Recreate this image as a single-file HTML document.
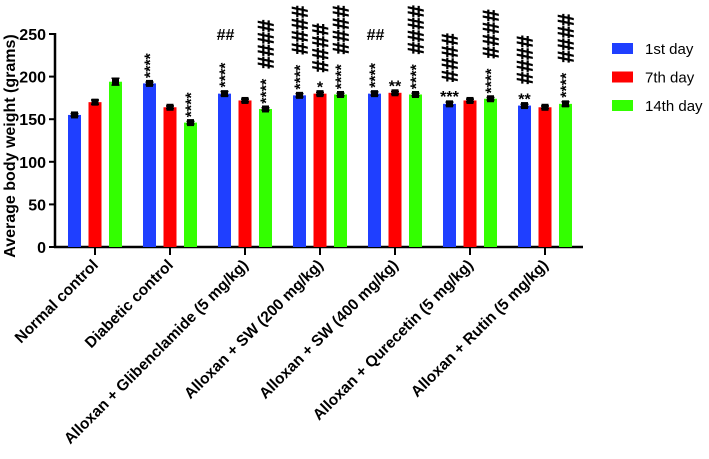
<!DOCTYPE html>
<html><head><meta charset="utf-8"><style>
html,body{margin:0;padding:0;background:#fff}
svg{display:block;font-family:"Liberation Sans",Arial,sans-serif}
</style></head><body>
<svg id="chart" width="709" height="459" viewBox="0 0 709 459" xmlns="http://www.w3.org/2000/svg"></svg>
<script>
const categories=["Normal control","Diabetic control","Alloxan + Glibenclamide (5 mg/kg)","Alloxan + SW (200 mg/kg)","Alloxan + SW (400 mg/kg)","Alloxan + Qurecetin (5 mg/kg)","Alloxan + Rutin (5 mg/kg)"];
const seriesNames=["1st day","7th day","14th day"];
const day1=[155,192,180,178,180,168,166];
const day7=[170,164,172,180,181,172,164];
const day14=[194,146,162,179,179,174,168];
const err1=[1.5,1.5,2.5,2,2,2,1.5];
const err7=[2.5,1.5,1.5,1.5,1.5,1.5,1.5];
const err14=[4,1.5,1.5,1.5,1.5,1.5,2.5];
const stars1=["","****","****","****","****","***","**"];
const stars7=["","","","*","**","",""];
const stars14=["","****","****","****","****","****","****"];
const hash1=["","","##","####","##","####","####"];
const hash7=["","","","####","","",""];
const hash14=["","","####","####","####","####","####"];
const yTicks=[0,50,100,150,200,250];
const colors=["#1f3fff","#ff0000","#33ff00"];

const svg=document.getElementById('chart');
const NS="http://www.w3.org/2000/svg";
const x0=55,yBase=247,yTop=34,yMax=250,gStart=95,gStep=75,bw=13,off=20.5;
const y=v=>yBase-(v/yMax)*(yBase-yTop);
const gx=i=>gStart+i*gStep;
function mk(tag,attrs,parent){const e=document.createElementNS(NS,tag);for(const k in attrs)e.setAttribute(k,attrs[k]);(parent||svg).appendChild(e);return e;}

const ya=mk('line',{x1:x0,y1:yTop-1,x2:x0,y2:yBase+1,stroke:'#000','stroke-width':2.5});


const xa=mk('line',{x1:x0-1,y1:yBase,x2:583,y2:yBase,stroke:'#000','stroke-width':2.5});


yTicks.forEach(t=>{
  const l=mk('line',{x1:x0-6,y1:y(t),x2:x0,y2:y(t),stroke:'#000','stroke-width':2});
  
  
  const tx=mk('text',{x:x0-9,y:y(t)+6,'text-anchor':'end','font-size':16,'font-weight':'bold'});
  tx.textContent=t;
  
  
});
const yt=mk('text',{x:0,y:0,transform:'translate(15,146) rotate(-90)','text-anchor':'middle','font-size':16,'font-weight':'bold'});
yt.textContent='Average body weight (grams)';



const vals=[day1,day7,day14],errs=[err1,err7,err14],stars=[stars1,stars7,stars14],hashes=[hash1,hash7,hash14];
categories.forEach((c,i)=>{
  const tk=mk('line',{x1:gx(i),y1:yBase,x2:gx(i),y2:yBase+8,stroke:'#000','stroke-width':2});
  
  
  const lb=mk('text',{x:0,y:0,transform:`translate(${gx(i)+4},${yBase+19}) rotate(-45)`,'text-anchor':'end','font-size':15.5,'font-weight':'bold'});
  lb.textContent=c;
  
  
  for(let s=0;s<3;s++){
    const cx=gx(i)+(s-1)*off, v=vals[s][i], top=y(v);
    const r=mk('rect',{x:cx-bw/2,y:top,width:bw,height:yBase-top,fill:colors[s]});
    
    
    const e=errs[s][i];
    const eb=mk('path',{d:`M${cx-4} ${y(v+e)}H${cx+4}M${cx} ${y(v+e)}V${y(v-e)}M${cx-4} ${y(v-e)}H${cx+4}`,stroke:'#000','stroke-width':1.5,fill:'none'});
    
    
    const sq=mk('rect',{x:cx-3.5,y:top-3.5,width:7,height:7,fill:'#000'});
    
    
    let cur=y(v+e)-4;
    const st=stars[s][i];
    if(st){
      let t;
      if(st.length>=4){
        t=mk('text',{x:0,y:0,transform:`translate(${cx+6},${cur}) rotate(-90)`,'font-size':16,'font-weight':'bold'});
        cur-=33;
      } else {
        t=mk('text',{x:cx,y:cur+4,'text-anchor':'middle','font-size':16,'font-weight':'bold'});
        cur-=14;
      }
      t.textContent=st;
      
      
    }
    const hs=hashes[s][i];
    if(hs){
      let t;
      if(hs.length>=4){
        t=mk('text',{x:0,y:0,transform:`translate(${cx+8},${cur-2}) rotate(-90)`,'font-size':22,'font-weight':'bold',stroke:'#000','stroke-width':0.6});
      } else {
        t=mk('text',{x:cx+1,y:40,'text-anchor':'middle','font-size':16,'font-weight':'bold'});
      }
      t.textContent=hs;
      
      
    }
  }
});
seriesNames.forEach((n,s)=>{
  const ly=43+s*28.5;
  const r=mk('rect',{x:612,y:ly,width:21,height:11,fill:colors[s]});
  
  
  const t=mk('text',{x:645,y:ly+11,'font-size':15});
  t.textContent=n;
  
  
});
</script>
</body></html>
